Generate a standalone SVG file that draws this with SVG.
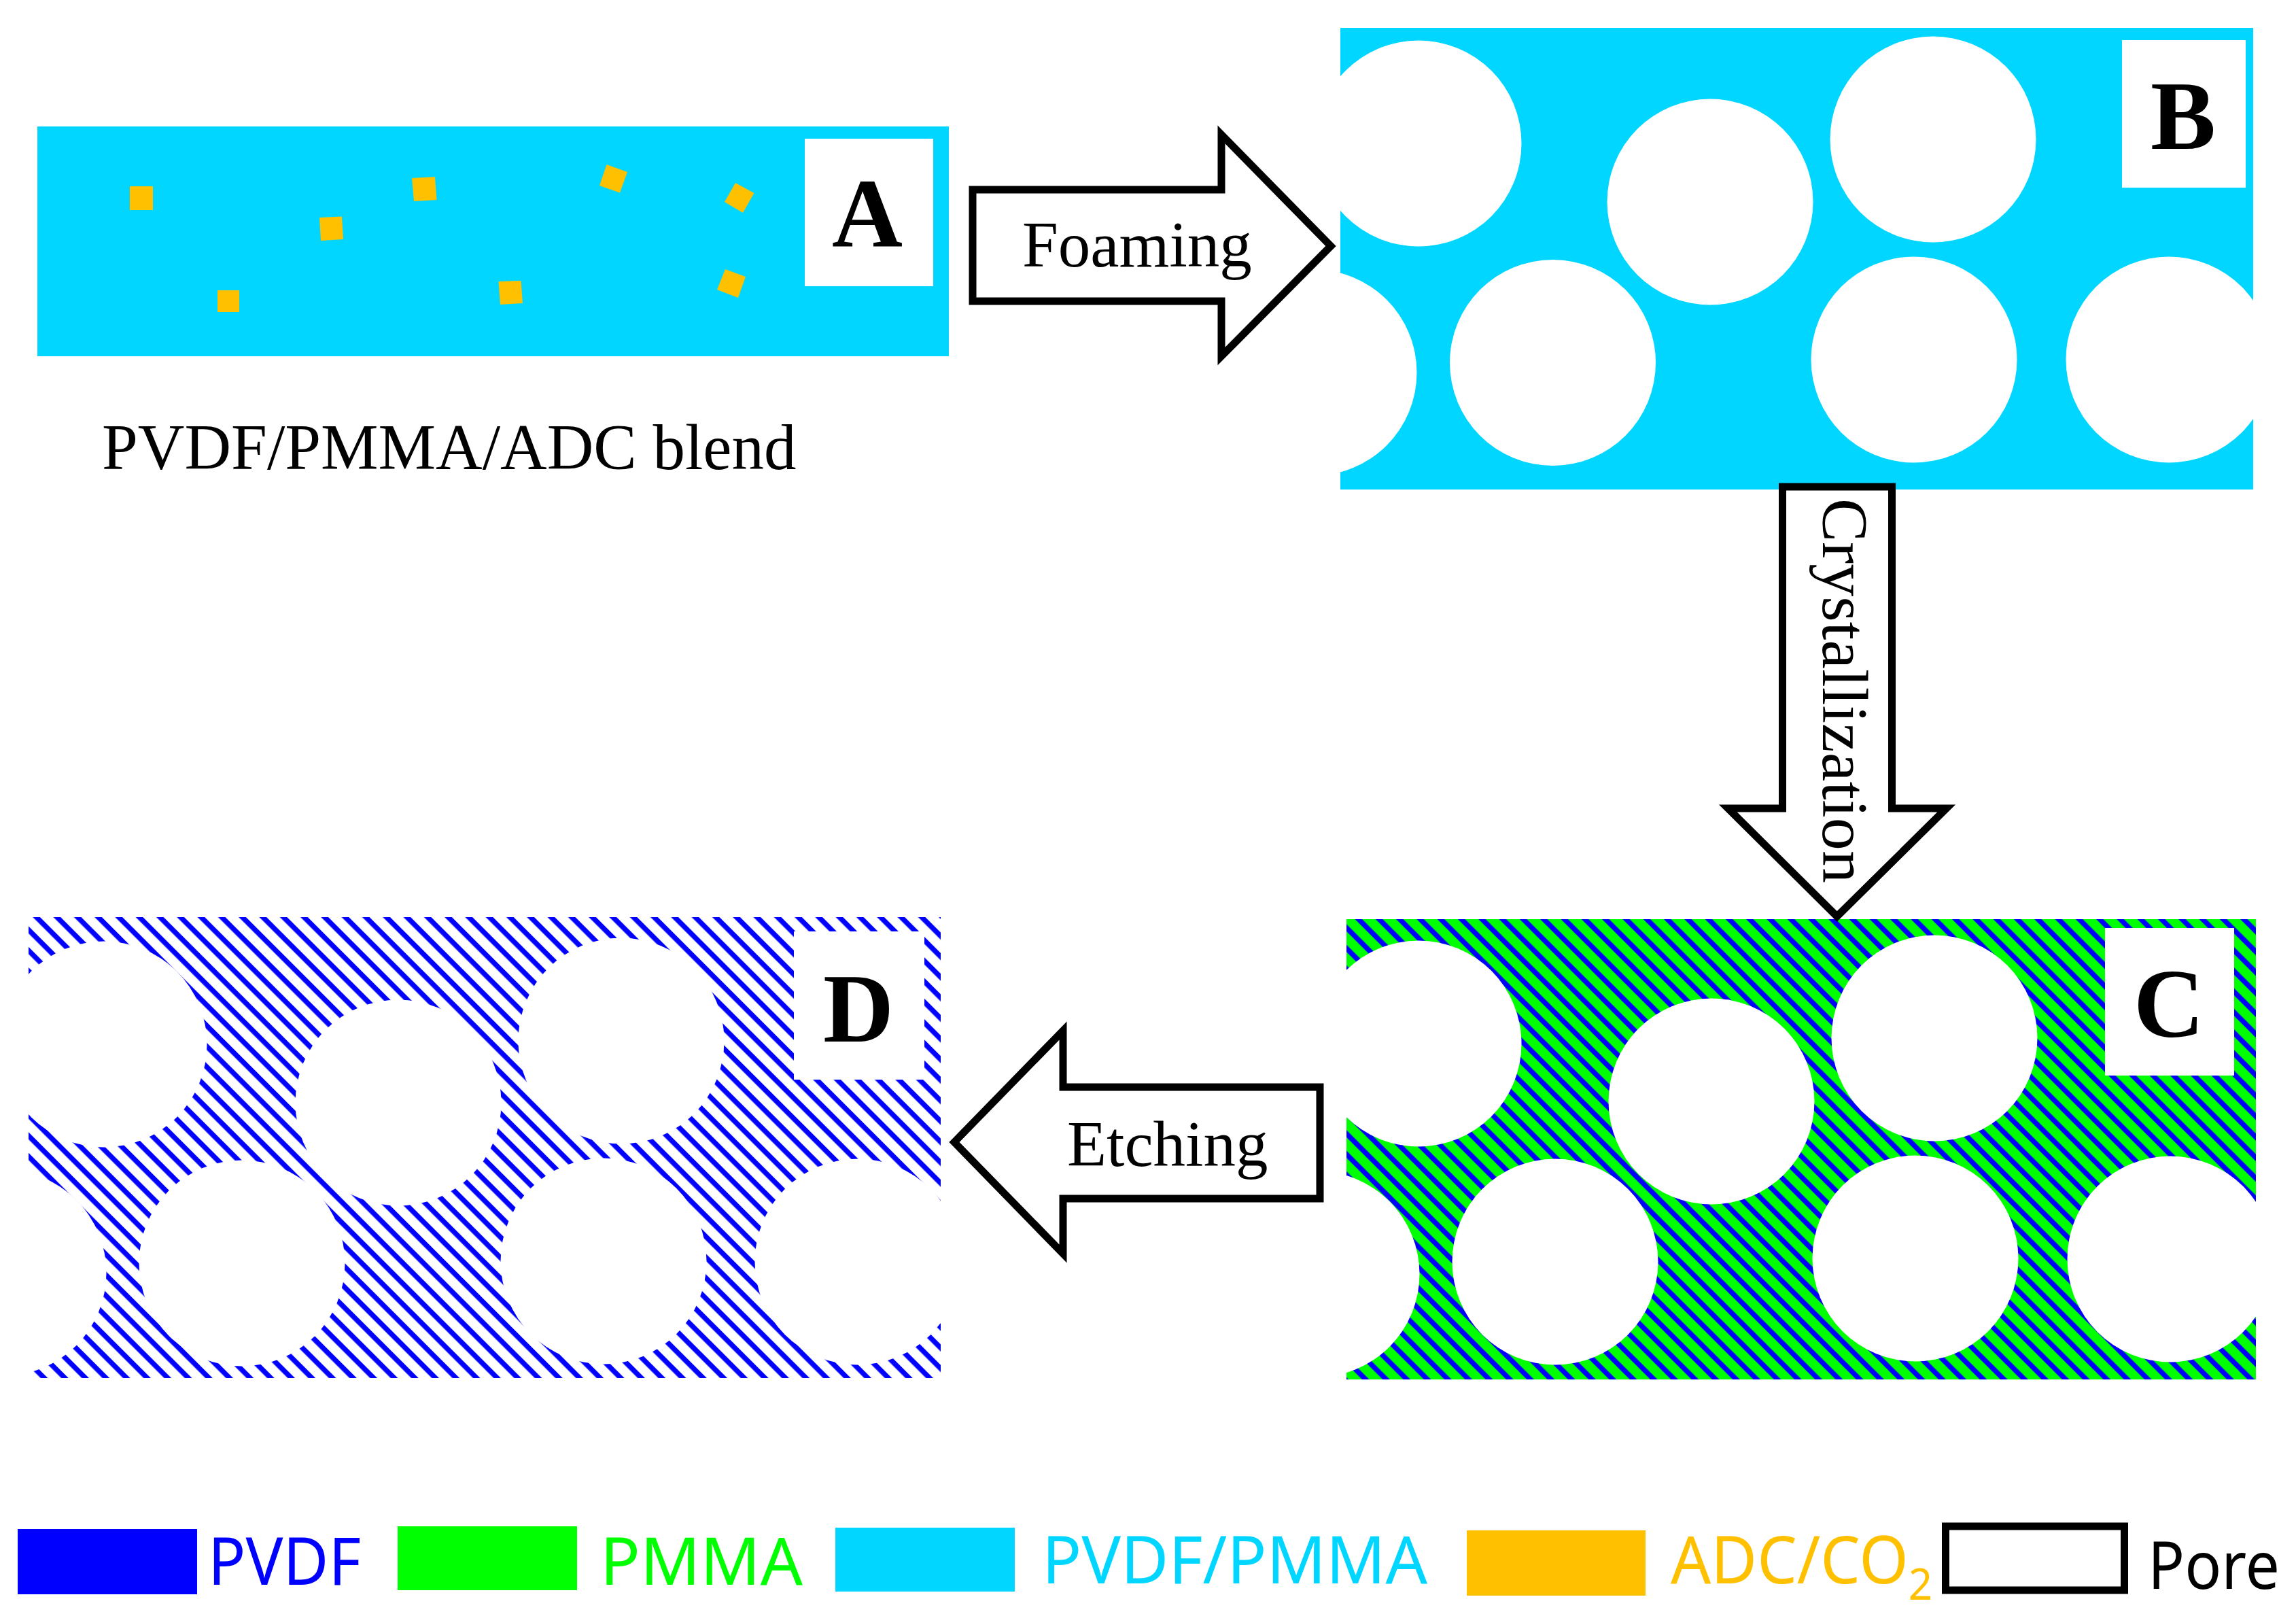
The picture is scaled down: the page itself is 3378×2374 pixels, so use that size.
<svg xmlns="http://www.w3.org/2000/svg" width="3378" height="2374" viewBox="0 0 3378 2374">
<style>
.cyan{fill:#00d6ff}.blue{fill:#0000ff}.green{fill:#00ff00}.orange{fill:#ffc000}.white{fill:#fff}
.serif{font-family:"Liberation Serif","Times New Roman",serif;fill:#000}
.label{font-size:95px}
.letter{font-size:144px;font-weight:bold;text-anchor:middle}
.legend{font-family:"Noto Sans","Open Sans",sans-serif;font-size:96px}
.arrow{fill:#fff;stroke:#000;stroke-width:11;stroke-linejoin:miter;stroke-miterlimit:10}
</style>
<defs>
<pattern id="hatchC" patternUnits="userSpaceOnUse" width="21.42" height="21.42" patternTransform="rotate(45)"><rect width="21.42" height="21.42" fill="#00ff00"/><rect y="10.2" width="21.42" height="7.5" fill="#0000ff"/></pattern>
<pattern id="hatchD" patternUnits="userSpaceOnUse" width="21.42" height="21.42" patternTransform="rotate(45)"><rect width="21.42" height="21.42" fill="#fff"/><rect y="12.6" width="21.42" height="7.5" fill="#0000ff"/></pattern>
<clipPath id="clipB"><rect x="1972" y="41" width="1343" height="679"/></clipPath>
<clipPath id="clipC"><rect x="1981" y="1352" width="1338" height="677"/></clipPath>
<clipPath id="clipD"><rect x="42" y="1349" width="1342" height="678"/></clipPath>
</defs>
<rect width="3378" height="2374" fill="#fff"/>
<g id="panel-a">
<rect class="cyan" x="55" y="186" width="1341" height="338"/>
<rect class="orange" x="191" y="274" width="34" height="35"/>
<polygon class="orange" points="606,262 640,260 642.500,294 609,296"/>
<polygon class="orange" points="470,320 503,318.500 505,352 472,354"/>
<polygon class="orange" points="892.500,242 923,253 912,283.500 882,273"/>
<polygon class="orange" points="1082,269 1109.500,284 1093,313 1066,297"/>
<polygon class="orange" points="1067,396 1097,407 1086,438 1055,426"/>
<polygon class="orange" points="733.500,414 766.500,413 769,446 736,448"/>
<rect class="orange" x="320" y="427" width="32" height="32"/>
<rect class="white" x="1184" y="204" width="189" height="217"/>
<text class="serif letter" x="1276" y="363">A</text>
<text class="serif label" x="150" y="690">PVDF/PMMA/ADC blend</text>
</g>
<g id="panel-b">
<rect class="cyan" x="1972" y="41" width="1343" height="679"/>
<g class="white" clip-path="url(#clipB)">
<circle cx="2087" cy="211" r="151.500"/><circle cx="2516" cy="297" r="151.500"/><circle cx="2844" cy="205" r="151.500"/>
<circle cx="1933" cy="548" r="151.500"/><circle cx="2284.500" cy="533.500" r="151.500"/><circle cx="2816" cy="529" r="151.500"/><circle cx="3191" cy="529" r="151.500"/>
</g>
<rect class="white" x="3122" y="59" width="182" height="217"/>
<text class="serif letter" x="3212" y="219">B</text>
</g>
<g id="panel-c">
<rect fill="url(#hatchC)" x="1981" y="1352" width="1338" height="677"/>
<g class="white" clip-path="url(#clipC)">
<circle cx="2087" cy="1535" r="151.500"/><circle cx="2518" cy="1620" r="151.500"/><circle cx="2846" cy="1527" r="151.500"/>
<circle cx="1937" cy="1874" r="151.500"/><circle cx="2288" cy="1856" r="151.500"/><circle cx="2818" cy="1851" r="151.500"/><circle cx="3193" cy="1852" r="151.500"/>
</g>
<rect class="white" x="3097" y="1365" width="190" height="217"/>
<text class="serif letter" x="3191" y="1525">C</text>
</g>
<g id="panel-d">
<rect fill="url(#hatchD)" x="42" y="1349" width="1342" height="678"/>
<g class="white" clip-path="url(#clipD)">
<circle cx="153" cy="1536" r="151.500"/><circle cx="586" cy="1622" r="151.500"/><circle cx="914" cy="1531" r="151.500"/>
<circle cx="5" cy="1872" r="151.500"/><circle cx="356" cy="1858" r="151.500"/><circle cx="888" cy="1855" r="151.500"/><circle cx="1262" cy="1856" r="151.500"/>
</g>
<rect class="white" x="1168" y="1370" width="192" height="218"/>
<text class="serif letter" x="1263" y="1532">D</text>
</g>
<g id="connectors">
<g id="arrow-foaming">
<polygon class="arrow" points="1431,279 1797,279 1797,198 1958,362 1797,524 1797,443 1431,443"/>
<text class="serif label" x="1504" y="392">Foaming</text>
</g>
<g id="arrow-crystallization">
<polygon class="arrow" points="2622.500,716 2783.500,716 2783.500,1189 2863.700,1189 2702.700,1348 2542.300,1189 2622.500,1189"/>
<text class="serif label" transform="translate(2682 733) rotate(90)" textLength="566" lengthAdjust="spacingAndGlyphs">Crystallization</text>
</g>
<g id="arrow-etching">
<polygon class="arrow" points="1942,1599 1564,1599 1564,1516 1404,1680 1564,1844 1564,1763 1942,1763"/>
<text class="serif label" x="1570" y="1715">Etching</text>
</g>
</g>
<g id="legend">
<g id="legend-pvdf"><rect class="blue" x="26" y="2249" width="264" height="96"/><text class="legend blue" x="306" y="2331" textLength="225" lengthAdjust="spacingAndGlyphs">PVDF</text></g>
<g id="legend-pmma"><rect class="green" x="585" y="2245" width="264" height="94"/><text class="legend green" x="883" y="2331" textLength="298" lengthAdjust="spacingAndGlyphs">PMMA</text></g>
<g id="legend-blend"><rect class="cyan" x="1229" y="2247" width="264" height="94"/><text class="legend cyan" x="1533" y="2329" textLength="567" lengthAdjust="spacingAndGlyphs">PVDF/PMMA</text></g>
<g id="legend-adc"><rect class="orange" x="2158" y="2251" width="263" height="96"/><text class="legend orange" transform="translate(2458 2329) scale(.9675 1)">ADC/CO<tspan font-size="64" dy="24">2</tspan></text></g>
<g id="legend-pore"><rect x="2862.500" y="2245" width="263" height="94" fill="#fff" stroke="#000" stroke-width="11"/><text class="legend" fill="#000" x="3160" y="2337" textLength="194" lengthAdjust="spacingAndGlyphs">Pore</text></g>
</g>
</svg>
